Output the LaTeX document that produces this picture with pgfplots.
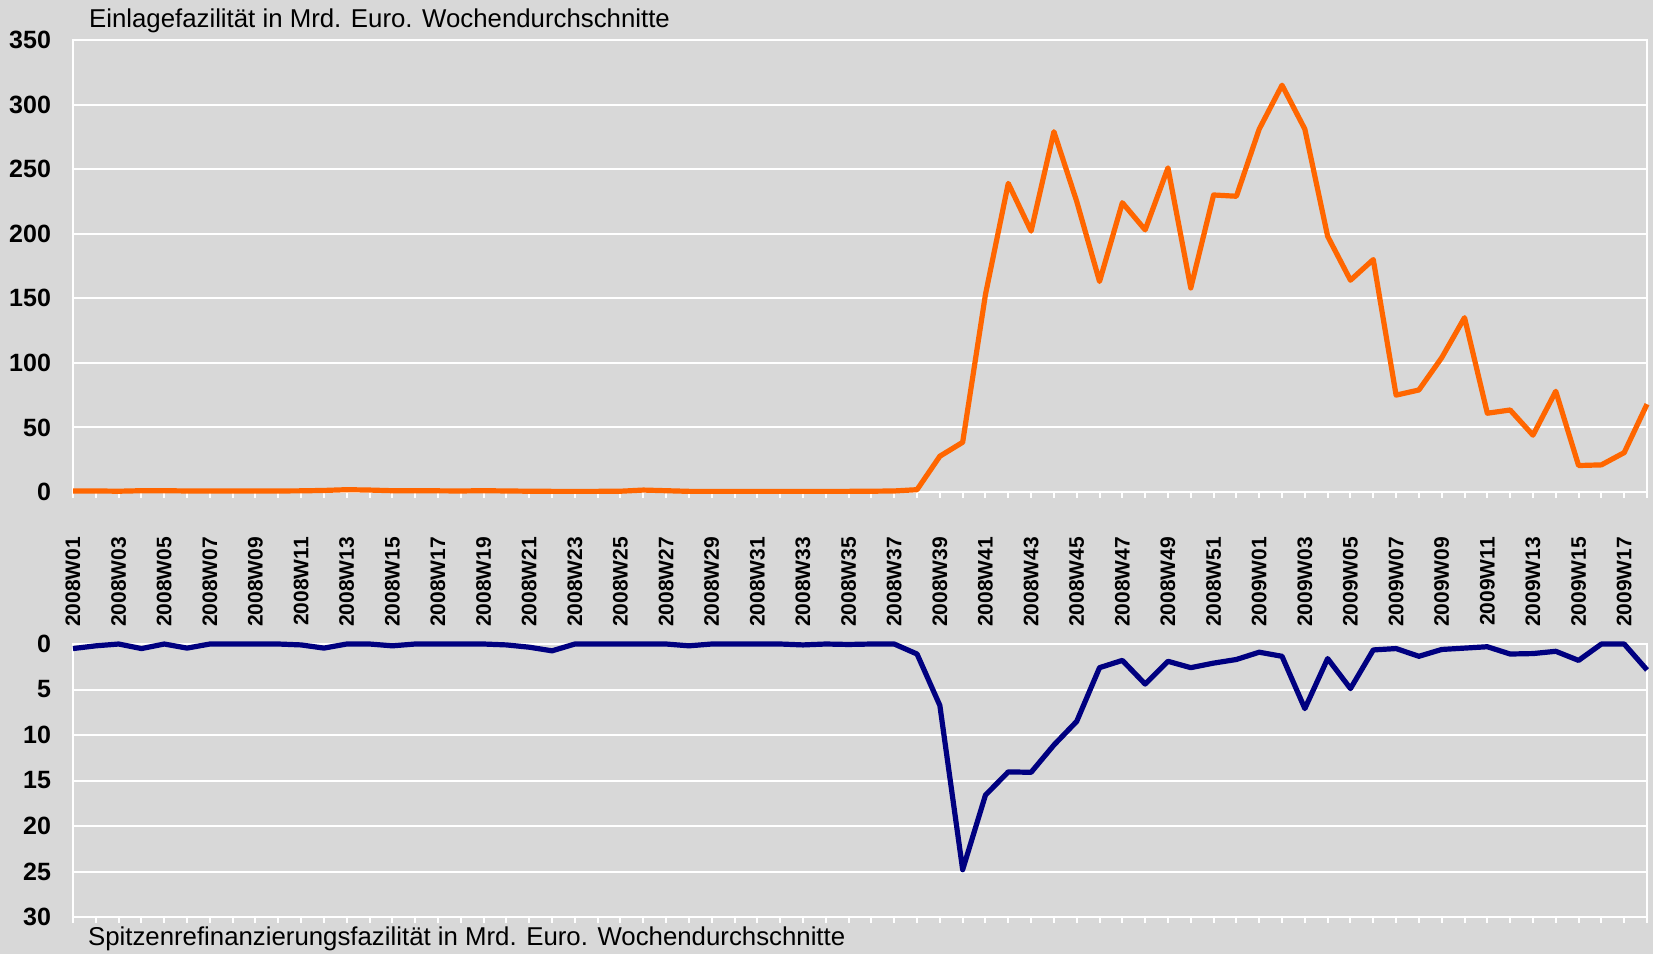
\documentclass[border=0pt]{standalone}
\usepackage{pgfplots}
\pgfplotsset{compat=1.18}
\usepackage{fontspec}
\setmainfont{Liberation Sans}
\definecolor{bg}{HTML}{D8D8D8}
\definecolor{lorange}{HTML}{FF6600}
\definecolor{lnavy}{HTML}{000080}

\pgfplotsset{common/.style={
  scale only axis, width=787pt, xmin=0, xmax=69,
  axis line style={white, line width=1pt},
  ymajorgrids, major grid style={white, line width=1pt},
  xtick={0,2,...,68}, minor xtick={1,3,...,69},
  tick align=outside, major tick length=3pt, minor tick length=3pt,
  xtick style={white, line width=1pt},
  ytick style={draw=none},
  yticklabel style={font=\fontsize{12.5}{13}\selectfont\bfseries, xshift=-4.5pt},
  /pgf/number format/assume math mode=true,
  clip=false,
}}

\pgfplotstableread{
x y
0 0.8
1 0.8
2 0.6
3 1.0
4 1.0
5 0.8
6 0.7
7 0.7
8 0.7
9 0.8
10 0.9
11 1.2
12 1.8
13 1.5
14 1.0
15 1.0
16 0.9
17 0.8
18 1.0
19 0.8
20 0.6
21 0.5
22 0.5
23 0.5
24 0.6
25 1.5
26 1.0
27 0.5
28 0.5
29 0.5
30 0.5
31 0.5
32 0.5
33 0.5
34 0.5
35 0.6
36 0.8
37 1.8
38 27.7
39 38.5
40 153
41 239
42 202
43 279
44 225
45 163
46 224
47 203
48 251
49 158
50 230
51 229
52 281
53 315
54 281
55 198
56 164
57 180
58 75
59 79
60 104
61 135
62 61
63 63.5
64 44
65 78
66 20.5
67 21
68 30.5
69 68
}\einlage

\pgfplotstableread{
x y
0 0.5
1 0.2
2 0
3 0.5
4 0
5 0.45
6 0
7 0
8 0
9 0
10 0.1
11 0.45
12 0
13 0
14 0.2
15 0
16 0
17 0
18 0
19 0.1
20 0.35
21 0.75
22 0
23 0
24 0
25 0
26 0
27 0.2
28 0
29 0
30 0
31 0
32 0.1
33 0
34 0.05
35 0
36 0
37 1.1
38 6.75
39 24.8
40 16.6
41 14.05
42 14.1
43 11.1
44 8.5
45 2.6
46 1.8
47 4.4
48 1.9
49 2.6
50 2.1
51 1.7
52 0.9
53 1.35
54 7.1
55 1.6
56 4.9
57 0.65
58 0.5
59 1.35
60 0.6
61 0.45
62 0.3
63 1.1
64 1.05
65 0.8
66 1.8
67 0
68 0
69 2.85
}\spitzen

\begin{document}
\begin{tikzpicture}
\fill[bg] (0,0) rectangle (826.5pt,477pt);

\begin{axis}[common,
  at={(36.5pt,231pt)}, anchor=south west, height=226pt,
  ymin=0, ymax=350, ytick={0,50,...,350},
  xtick pos=bottom,
  xticklabels={2008W01,2008W03,2008W05,2008W07,2008W09,2008W11,2008W13,2008W15,2008W17,2008W19,2008W21,2008W23,2008W25,2008W27,2008W29,2008W31,2008W33,2008W35,2008W37,2008W39,2008W41,2008W43,2008W45,2008W47,2008W49,2008W51,2009W01,2009W03,2009W05,2009W07,2009W09,2009W11,2009W13,2009W15,2009W17},
  xticklabel style={rotate=90, anchor=east, font=\fontsize{10.5}{11}\selectfont\bfseries},
  xticklabel shift=16pt,
]
\addplot[lorange, line width=2.6pt, line join=round] table[x=x,y=y] {\einlage};
\end{axis}

\begin{axis}[common,
  at={(36.5pt,18.5pt)}, anchor=south west, height=136.5pt,
  ymin=0, ymax=30, ytick={0,5,...,30}, y dir=reverse,
  xtick pos=left, xticklabels={},
]
\addplot[lnavy, line width=2.6pt, line join=round] table[x=x,y=y] {\spitzen};
\end{axis}

\node[anchor=base west, font=\fontsize{12.9}{14}\selectfont] at (41pt,463pt) {Einlagefazilität in Mrd. Euro. Wochendurchschnitte};
\node[anchor=base west, font=\fontsize{12.9}{14}\selectfont] at (40.5pt,4.5pt) {Spitzenrefinanzierungsfazilität in Mrd. Euro. Wochendurchschnitte};

\pgfresetboundingbox
\path (0,0) rectangle (826.5pt,477pt);
\end{tikzpicture}
\end{document}
